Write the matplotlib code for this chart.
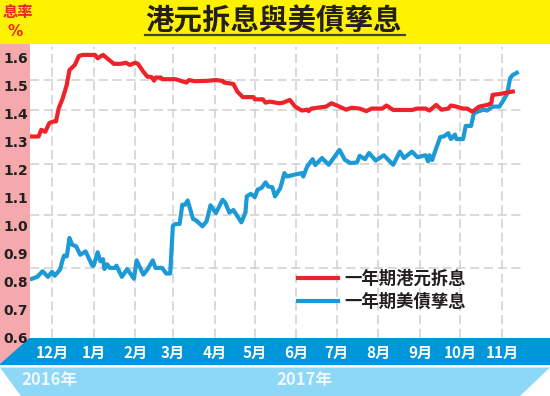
import pandas as pd
import numpy as np
import matplotlib
matplotlib.use("Agg")
import matplotlib.pyplot as plt
import matplotlib.dates as mdates
from matplotlib.patches import Polygon, Rectangle
from matplotlib.lines import Line2D
from matplotlib.transforms import blended_transform_factory

plt.rcParams["font.family"] = ["Noto Sans CJK TC", "DejaVu Sans"]

# ============================================================
# Data
# ============================================================
hibor_dates = [
    "2016-11-15", "2016-11-21", "2016-11-23", "2016-11-26", "2016-11-29", "2016-12-02",
    "2016-12-04", "2016-12-06", "2016-12-09", "2016-12-12", "2016-12-14", "2016-12-18",
    "2016-12-21", "2016-12-24", "2017-01-02", "2017-01-04", "2017-01-08", "2017-01-12",
    "2017-01-16", "2017-01-21", "2017-01-25", "2017-01-28", "2017-02-01", "2017-02-03",
    "2017-02-07", "2017-02-10", "2017-02-13", "2017-02-15", "2017-02-16", "2017-02-20",
    "2017-02-21", "2017-03-03", "2017-03-11", "2017-03-13", "2017-03-17", "2017-03-26",
    "2017-04-02", "2017-04-07", "2017-04-08", "2017-04-15", "2017-04-18", "2017-04-22",
    "2017-04-30", "2017-05-01", "2017-05-07", "2017-05-09", "2017-05-12", "2017-05-19",
    "2017-05-22", "2017-05-27", "2017-05-31", "2017-06-05", "2017-06-09", "2017-06-10",
    "2017-06-12", "2017-06-23", "2017-06-27", "2017-07-01", "2017-07-08", "2017-07-12",
    "2017-07-18", "2017-07-23", "2017-07-27", "2017-08-04", "2017-08-07", "2017-08-12",
    "2017-08-26", "2017-08-30", "2017-09-05", "2017-09-08", "2017-09-13", "2017-09-17",
    "2017-09-22", "2017-09-24", "2017-09-28", "2017-10-03", "2017-10-06", "2017-10-10",
    "2017-10-15", "2017-10-21", "2017-10-24", "2017-10-25", "2017-10-30", "2017-11-09",
]
hibor_values = [
    1.319, 1.319, 1.343, 1.336, 1.367, 1.373,
    1.373, 1.420, 1.456, 1.504, 1.557, 1.575,
    1.607, 1.611, 1.611, 1.599, 1.611, 1.595,
    1.579, 1.579, 1.583, 1.575, 1.583, 1.579,
    1.551, 1.533, 1.532, 1.519, 1.530, 1.530,
    1.524, 1.524, 1.512, 1.521, 1.517, 1.518,
    1.521, 1.518, 1.512, 1.507, 1.480, 1.460,
    1.460, 1.452, 1.452, 1.440, 1.444, 1.438,
    1.440, 1.450, 1.426, 1.412, 1.415, 1.410,
    1.419, 1.426, 1.438, 1.430, 1.415, 1.422,
    1.419, 1.410, 1.419, 1.419, 1.430, 1.414,
    1.414, 1.419, 1.419, 1.412, 1.432, 1.415,
    1.419, 1.430, 1.426, 1.419, 1.419, 1.408,
    1.426, 1.432, 1.438, 1.468, 1.471, 1.480,
]

ust_dates = [
    "2016-11-16", "2016-11-20", "2016-11-24", "2016-11-28", "2016-12-01", "2016-12-03",
    "2016-12-07", "2016-12-09", "2016-12-10", "2016-12-12", "2016-12-14", "2016-12-16",
    "2016-12-19", "2016-12-22", "2016-12-26", "2016-12-31", "2017-01-01", "2017-01-04",
    "2017-01-06", "2017-01-08", "2017-01-09", "2017-01-11", "2017-01-13", "2017-01-17",
    "2017-01-18", "2017-01-22", "2017-01-26", "2017-01-31", "2017-02-02", "2017-02-07",
    "2017-02-10", "2017-02-14", "2017-02-16", "2017-02-21", "2017-02-24", "2017-02-27",
    "2017-03-01", "2017-03-03", "2017-03-06", "2017-03-08", "2017-03-10", "2017-03-12",
    "2017-03-16", "2017-03-18", "2017-03-23", "2017-03-26", "2017-03-29", "2017-04-02",
    "2017-04-07", "2017-04-09", "2017-04-12", "2017-04-15", "2017-04-21", "2017-04-24",
    "2017-04-25", "2017-04-28", "2017-05-01", "2017-05-03", "2017-05-06", "2017-05-09",
    "2017-05-11", "2017-05-14", "2017-05-16", "2017-05-20", "2017-05-23", "2017-05-25",
    "2017-05-30", "2017-06-05", "2017-06-06", "2017-06-09", "2017-06-13", "2017-06-15",
    "2017-06-20", "2017-06-25", "2017-07-03", "2017-07-07", "2017-07-11", "2017-07-16",
    "2017-07-18", "2017-07-22", "2017-07-25", "2017-07-30", "2017-08-05", "2017-08-12",
    "2017-08-17", "2017-08-20", "2017-08-26", "2017-08-30", "2017-09-05", "2017-09-07",
    "2017-09-08", "2017-09-10", "2017-09-13", "2017-09-16", "2017-09-19", "2017-09-22",
    "2017-09-24", "2017-09-27", "2017-09-28", "2017-10-03", "2017-10-05", "2017-10-09",
    "2017-10-11", "2017-10-14", "2017-10-18", "2017-10-21", "2017-10-25", "2017-10-30",
    "2017-11-02", "2017-11-05", "2017-11-07", "2017-11-09", "2017-11-12",
]
ust_values = [
    0.810, 0.817, 0.837, 0.817, 0.835, 0.821,
    0.843, 0.879, 0.893, 0.890, 0.956, 0.932,
    0.926, 0.896, 0.908, 0.857, 0.857, 0.905,
    0.873, 0.880, 0.845, 0.862, 0.849, 0.849,
    0.857, 0.817, 0.845, 0.810, 0.876, 0.825,
    0.843, 0.876, 0.849, 0.849, 0.829, 0.829,
    1.000, 1.006, 1.006, 1.075, 1.075, 1.090,
    1.024, 1.020, 0.998, 1.015, 1.073, 1.045,
    1.093, 1.082, 1.047, 1.056, 1.012, 1.047,
    1.105, 1.114, 1.102, 1.129, 1.135, 1.155,
    1.140, 1.138, 1.105, 1.135, 1.188, 1.176,
    1.182, 1.188, 1.176, 1.212, 1.238, 1.217,
    1.242, 1.218, 1.271, 1.236, 1.224, 1.226,
    1.250, 1.238, 1.260, 1.233, 1.252, 1.218,
    1.265, 1.242, 1.265, 1.245, 1.252, 1.230,
    1.252, 1.235, 1.277, 1.317, 1.320, 1.331,
    1.310, 1.326, 1.310, 1.310, 1.357, 1.357,
    1.402, 1.408, 1.415, 1.412, 1.426, 1.426,
    1.448, 1.474, 1.527, 1.539, 1.547,
]

month_starts = pd.date_range("2016-12-01", "2017-11-01", freq="MS")
month_labels = ["12月", "1月", "2月", "3月", "4月", "5月", "6月", "7月", "8月", "9月", "10月", "11月"]
ytick_values = [0.6, 0.7, 0.8, 0.9, 1.0, 1.1, 1.2, 1.3, 1.4, 1.5, 1.6]
grid_rows = [1.521, 1.414, 1.221, 1.039, 0.85]

series_names = ["一年期港元拆息", "一年期美債孳息"]

# colours
YELLOW = "#FFF200"
PINK = "#F5A9AC"
DARK_BLUE = "#0096DA"
LIGHT_BLUE = "#8DD7F7"
RED = "#EE2229"
BLUE = "#1B9AD6"
INK = "#231F20"

# ============================================================
# Figure
# ============================================================
W, H = 550, 396
fig = plt.figure(figsize=(5.5, 3.96), dpi=100)


def fx(px):
    return px / W


def fy(py):
    return 1 - py / H


# background bands (figure coords)
fig.patches.append(Rectangle((0, fy(44)), 1, 1 - fy(44), transform=fig.transFigure,
                             facecolor=YELLOW, edgecolor="none", zorder=-2))
fig.patches.append(Rectangle((0, fy(365)), 1, fy(337.5) - fy(365), transform=fig.transFigure,
                             facecolor=DARK_BLUE, edgecolor="none", zorder=-2))
fig.patches.append(Polygon([(fx(0), fy(367.5)), (fx(550), fy(367.5)), (fx(520), fy(396)), (fx(21), fy(396))],
                           closed=True, transform=fig.transFigure,
                           facecolor=LIGHT_BLUE, edgecolor="none", zorder=-2))
fig.patches.append(Polygon([(fx(0), fy(44)), (fx(30), fy(44)), (fx(30), fy(337.5)), (fx(0), fy(364))],
                           closed=True, transform=fig.transFigure,
                           facecolor=PINK, edgecolor="none", zorder=-1))

ax = fig.add_axes([fx(30), fy(337.5), fx(520), fy(44) - fy(337.5)])
ax.set_facecolor("white")
for s in ax.spines.values():
    s.set_visible(False)

x0 = pd.Timestamp("2016-12-01")
day_px = 450 / 335.0
ax.set_xlim(x0 - pd.Timedelta(days=22 / day_px), x0 + pd.Timedelta(days=498 / day_px))
ax.set_ylim(0.6, 1.65)

# decorative grid
grid_end = x0 + pd.Timedelta(days=473 / day_px)
ax.hlines(grid_rows, ax.get_xlim()[0], mdates.date2num(grid_end), colors="#cfcfcf",
          linestyles=(0, (6, 3)), linewidth=1.1, zorder=1)
ax.vlines(month_starts, 0.6, 1.64, colors="#cfcfcf", linestyles=(0, (6, 3)),
          linewidth=1.1, zorder=1)

# series
hibor = pd.Series(hibor_values, index=pd.to_datetime(hibor_dates))
ust = pd.Series(ust_values, index=pd.to_datetime(ust_dates))
ax.plot(ust.index, ust.values, color=BLUE, lw=3.0, solid_joinstyle="round",
        label=series_names[1], zorder=3)
ax.plot(hibor.index, hibor.values, color=RED, lw=3.0, solid_joinstyle="round",
        label=series_names[0], zorder=4)

# y ticks inside pink band
ax.set_yticks(ytick_values)
ax.set_yticklabels([f"{v:.1f}" for v in ytick_values], fontsize=10, fontweight="bold",
                   color=INK, family="DejaVu Sans")
ax.tick_params(axis="y", length=0, pad=1.5)
ax.set_xticks([])

# month labels on dark blue band
trans = blended_transform_factory(ax.transData, fig.transFigure)
for d, lab in zip(month_starts, month_labels):
    ax.text(d, fy(352.5), lab, transform=trans, ha="center", va="center",
            fontsize=11, fontweight="bold", color="white", clip_on=False, zorder=5)

fig.text(fx(49), fy(380.5), "2016年", ha="center", va="center", fontsize=12,
         fontweight="bold", color="#EEF8FD")
fig.text(fx(304), fy(380.5), "2017年", ha="center", va="center", fontsize=12,
         fontweight="bold", color="#EEF8FD")

# legend
handles = [Line2D([], [], color=RED, lw=3.0), Line2D([], [], color=BLUE, lw=3.0)]
leg = ax.legend(handles, series_names, loc="center left",
                bbox_to_anchor=((298 - 30) / 520, (337.5 - 290.5) / 293.5),
                frameon=False, handlelength=2.3, handletextpad=0.35, labelspacing=0.3,
                borderpad=0, borderaxespad=0,
                prop={"family": ["Noto Sans CJK TC"], "weight": "bold", "size": 12.5})
for t in leg.get_texts():
    t.set_color(INK)

# title and unit
fig.text(fx(273), fy(21), "港元拆息與美債孳息", ha="center", va="center", fontsize=20.5,
         fontweight="bold", color=INK)
fig.add_artist(Line2D([fx(145), fx(405)], [fy(34.5), fy(34.5)], transform=fig.transFigure,
                      color="#444444", lw=1.6))
fig.text(fx(18), fy(12), "息率", ha="center", va="center", fontsize=11,
         fontweight="bold", color=RED)
fig.text(fx(15), fy(31), "%", ha="center", va="center", fontsize=11,
         fontweight="bold", color=RED, family="DejaVu Sans")

fig.savefig("out.png", dpi=100)
